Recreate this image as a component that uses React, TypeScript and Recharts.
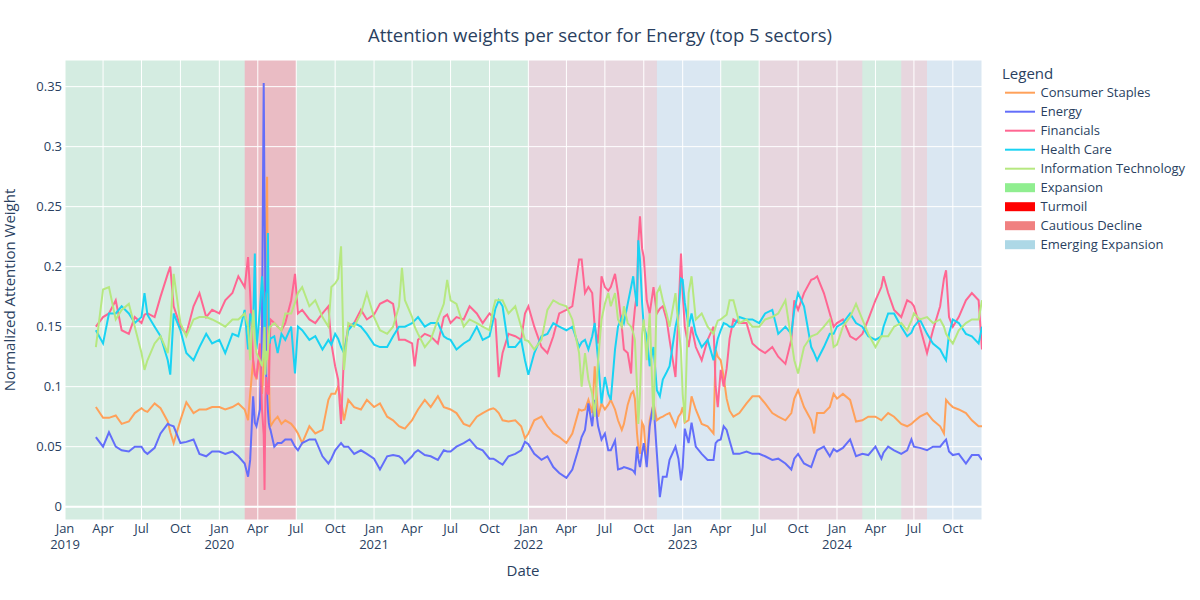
import React from "react";
import {
  LineChart,
  Line,
  XAxis,
  YAxis,
  CartesianGrid,
  ReferenceArea,
  ReferenceLine,
} from "recharts";

// Sample dates (roughly semi-monthly, denser where the lines spike)
const dates = [
  "2019-03-15", "2019-04-01", "2019-04-15", "2019-05-01", "2019-05-15", "2019-06-01", "2019-06-15",
  "2019-07-01", "2019-07-08", "2019-07-15", "2019-08-01", "2019-08-15", "2019-09-01", "2019-09-07",
  "2019-09-15", "2019-10-01", "2019-10-15", "2019-11-01", "2019-11-15", "2019-12-01", "2019-12-15",
  "2020-01-01", "2020-01-15", "2020-02-01", "2020-02-15", "2020-03-01", "2020-03-09", "2020-03-14",
  "2020-03-21", "2020-03-25", "2020-03-29", "2020-04-06", "2020-04-11", "2020-04-15", "2020-04-17",
  "2020-04-19", "2020-04-21", "2020-04-23", "2020-04-25", "2020-04-27", "2020-04-29", "2020-05-01",
  "2020-05-10", "2020-05-18", "2020-05-27", "2020-06-05", "2020-06-19", "2020-06-28", "2020-07-05",
  "2020-07-15", "2020-08-01", "2020-08-15", "2020-09-01", "2020-09-15", "2020-09-22", "2020-10-01",
  "2020-10-08", "2020-10-15", "2020-10-22", "2020-11-01", "2020-11-15", "2020-12-01", "2020-12-15",
  "2021-01-01", "2021-01-15", "2021-02-01", "2021-02-15", "2021-03-01", "2021-03-08", "2021-03-15",
  "2021-04-01", "2021-04-07", "2021-04-15", "2021-05-01", "2021-05-15", "2021-06-01", "2021-06-15",
  "2021-06-23", "2021-07-01", "2021-07-15", "2021-08-01", "2021-08-15", "2021-09-01", "2021-09-15",
  "2021-10-01", "2021-10-10", "2021-10-15", "2021-10-23", "2021-11-01", "2021-11-15", "2021-12-01",
  "2021-12-15", "2021-12-24",
  "2022-01-01", "2022-01-15", "2022-02-01", "2022-02-15", "2022-03-01", "2022-03-15", "2022-04-01",
  "2022-04-15", "2022-05-01", "2022-05-07", "2022-05-15", "2022-05-23", "2022-06-01", "2022-06-07",
  "2022-06-15", "2022-06-23", "2022-07-01", "2022-07-09", "2022-07-15", "2022-07-25", "2022-08-01",
  "2022-08-10", "2022-08-15", "2022-08-24", "2022-09-01", "2022-09-06", "2022-09-10", "2022-09-15",
  "2022-09-18", "2022-09-22", "2022-09-27", "2022-10-01", "2022-10-08", "2022-10-15", "2022-10-24",
  "2022-11-01", "2022-11-08", "2022-11-15", "2022-11-24", "2022-12-01", "2022-12-15", "2022-12-22",
  "2022-12-28",
  "2023-01-01", "2023-01-06", "2023-01-15", "2023-01-22", "2023-02-01", "2023-02-15", "2023-03-01",
  "2023-03-15", "2023-03-20", "2023-03-25", "2023-04-01", "2023-04-08", "2023-04-15", "2023-04-22",
  "2023-05-01", "2023-05-15", "2023-06-01", "2023-06-15", "2023-07-01", "2023-07-15", "2023-08-01",
  "2023-08-15", "2023-09-01", "2023-09-15", "2023-09-22", "2023-10-01", "2023-10-15", "2023-11-01",
  "2023-11-08", "2023-11-15", "2023-12-01", "2023-12-15", "2023-12-24",
  "2024-01-01", "2024-01-15", "2024-02-01", "2024-02-15", "2024-03-01", "2024-03-15", "2024-04-01",
  "2024-04-15", "2024-04-20", "2024-05-01", "2024-05-15", "2024-06-01", "2024-06-15", "2024-06-25",
  "2024-07-01", "2024-07-15", "2024-08-01", "2024-08-15", "2024-09-01", "2024-09-10", "2024-09-15",
  "2024-09-22", "2024-10-01", "2024-10-15", "2024-11-01", "2024-11-15", "2024-12-01", "2024-12-09",
];

const consumerStaples = [
  0.083, 0.074, 0.074, 0.076, 0.069, 0.071, 0.078, 0.082, 0.080, 0.079, 0.086, 0.082, 0.071, 0.062, 0.053, 0.072, 0.087, 0.078, 0.081, 0.081, 0.083,
  0.083, 0.081, 0.083, 0.086, 0.081, 0.072, 0.094, 0.122, 0.110, 0.106, 0.128, 0.094, 0.120, 0.178, 0.200, 0.240, 0.275, 0.160, 0.122, 0.080, 0.067,
  0.072, 0.075, 0.069, 0.072, 0.069, 0.065, 0.061, 0.053, 0.067, 0.061, 0.064, 0.089, 0.094, 0.094, 0.100, 0.089, 0.072, 0.089, 0.083, 0.081, 0.089,
  0.083, 0.086, 0.075, 0.072, 0.067, 0.066, 0.065, 0.072, 0.076, 0.081, 0.089, 0.083, 0.092, 0.083, 0.082, 0.081, 0.078, 0.069, 0.067, 0.075, 0.078,
  0.081, 0.082, 0.081, 0.078, 0.072, 0.071, 0.072, 0.067, 0.057,
  0.061, 0.072, 0.075, 0.067, 0.061, 0.058, 0.053, 0.061, 0.081, 0.080, 0.081, 0.089, 0.078, 0.117, 0.075, 0.086, 0.081, 0.085, 0.089, 0.081, 0.072,
  0.064, 0.069, 0.085, 0.094, 0.096, 0.090, 0.061, 0.050, 0.044, 0.070, 0.067, 0.036, 0.072, 0.086, 0.072, 0.074, 0.075, 0.077, 0.078, 0.067, 0.075,
  0.078,
  0.083, 0.070, 0.072, 0.092, 0.081, 0.069, 0.067, 0.061, 0.131, 0.125, 0.122, 0.108, 0.090, 0.080, 0.075, 0.078, 0.086, 0.092, 0.092, 0.086, 0.078,
  0.075, 0.072, 0.078, 0.090, 0.097, 0.083, 0.072, 0.061, 0.078, 0.078, 0.083, 0.094,
  0.090, 0.094, 0.089, 0.071, 0.072, 0.075, 0.075, 0.072, 0.074, 0.078, 0.075, 0.069, 0.067, 0.069, 0.071, 0.075, 0.078, 0.072, 0.067, 0.061, 0.089,
  0.086, 0.083, 0.081, 0.078, 0.072, 0.067, 0.067,
];

const energy = [
  0.058, 0.050, 0.062, 0.050, 0.047, 0.046, 0.050, 0.050, 0.046, 0.044, 0.049, 0.061, 0.069, 0.068, 0.067, 0.053, 0.054, 0.056, 0.044, 0.042, 0.046,
  0.046, 0.044, 0.046, 0.042, 0.036, 0.025, 0.039, 0.092, 0.070, 0.067, 0.081, 0.150, 0.353, 0.250, 0.178, 0.110, 0.094, 0.080, 0.070, 0.066, 0.064,
  0.050, 0.053, 0.053, 0.056, 0.056, 0.050, 0.047, 0.053, 0.056, 0.056, 0.042, 0.036, 0.040, 0.047, 0.050, 0.053, 0.050, 0.050, 0.044, 0.047, 0.044,
  0.040, 0.031, 0.042, 0.043, 0.042, 0.040, 0.036, 0.042, 0.045, 0.047, 0.043, 0.042, 0.039, 0.047, 0.046, 0.046, 0.050, 0.053, 0.056, 0.049, 0.047,
  0.040, 0.040, 0.039, 0.037, 0.035, 0.042, 0.044, 0.047, 0.054,
  0.052, 0.044, 0.039, 0.042, 0.033, 0.028, 0.024, 0.031, 0.050, 0.058, 0.064, 0.086, 0.067, 0.089, 0.067, 0.056, 0.061, 0.047, 0.047, 0.055, 0.031,
  0.032, 0.033, 0.032, 0.031, 0.030, 0.028, 0.050, 0.040, 0.033, 0.045, 0.053, 0.033, 0.067, 0.086, 0.044, 0.008, 0.025, 0.025, 0.039, 0.050, 0.040,
  0.022,
  0.033, 0.065, 0.053, 0.070, 0.050, 0.044, 0.039, 0.039, 0.053, 0.055, 0.056, 0.067, 0.064, 0.055, 0.044, 0.044, 0.046, 0.044, 0.044, 0.042, 0.039,
  0.040, 0.036, 0.031, 0.040, 0.044, 0.036, 0.033, 0.040, 0.047, 0.050, 0.042, 0.048,
  0.046, 0.049, 0.056, 0.042, 0.044, 0.043, 0.050, 0.040, 0.045, 0.050, 0.047, 0.044, 0.047, 0.056, 0.050, 0.049, 0.047, 0.050, 0.050, 0.054, 0.056,
  0.046, 0.043, 0.044, 0.036, 0.043, 0.043, 0.039,
];

const financials = [
  0.150, 0.158, 0.161, 0.172, 0.147, 0.144, 0.158, 0.153, 0.160, 0.161, 0.158, 0.175, 0.194, 0.200, 0.167, 0.150, 0.144, 0.167, 0.178, 0.158, 0.164,
  0.161, 0.172, 0.178, 0.192, 0.183, 0.208, 0.178, 0.122, 0.110, 0.108, 0.136, 0.081, 0.060, 0.014, 0.090, 0.108, 0.100, 0.094, 0.094, 0.130, 0.156,
  0.153, 0.150, 0.147, 0.153, 0.172, 0.194, 0.161, 0.164, 0.156, 0.153, 0.161, 0.167, 0.136, 0.117, 0.106, 0.069, 0.128, 0.150, 0.153, 0.164, 0.156,
  0.160, 0.169, 0.172, 0.169, 0.139, 0.139, 0.139, 0.136, 0.117, 0.139, 0.144, 0.142, 0.136, 0.158, 0.160, 0.153, 0.158, 0.156, 0.167, 0.161, 0.153,
  0.161, 0.158, 0.156, 0.108, 0.128, 0.144, 0.142, 0.139, 0.161,
  0.167, 0.150, 0.133, 0.128, 0.142, 0.161, 0.164, 0.167, 0.206, 0.206, 0.178, 0.183, 0.178, 0.150, 0.136, 0.192, 0.183, 0.180, 0.183, 0.194, 0.178,
  0.150, 0.131, 0.128, 0.111, 0.150, 0.165, 0.178, 0.220, 0.242, 0.215, 0.208, 0.172, 0.161, 0.183, 0.161, 0.165, 0.167, 0.156, 0.139, 0.108, 0.161,
  0.211,
  0.178, 0.150, 0.133, 0.150, 0.133, 0.122, 0.139, 0.150, 0.100, 0.083, 0.114, 0.100, 0.115, 0.140, 0.156, 0.153, 0.153, 0.136, 0.131, 0.128, 0.133,
  0.125, 0.119, 0.139, 0.172, 0.164, 0.178, 0.189, 0.190, 0.192, 0.178, 0.161, 0.150,
  0.153, 0.156, 0.142, 0.139, 0.144, 0.156, 0.172, 0.183, 0.192, 0.178, 0.164, 0.158, 0.172, 0.170, 0.167, 0.150, 0.128, 0.147, 0.167, 0.190, 0.197,
  0.158, 0.150, 0.158, 0.172, 0.178, 0.172, 0.131,
];

const healthCare = [
  0.147, 0.136, 0.161, 0.161, 0.167, 0.161, 0.153, 0.158, 0.178, 0.160, 0.150, 0.142, 0.122, 0.110, 0.161, 0.147, 0.128, 0.122, 0.133, 0.144, 0.136,
  0.139, 0.128, 0.144, 0.142, 0.164, 0.131, 0.161, 0.150, 0.211, 0.131, 0.164, 0.192, 0.170, 0.139, 0.160, 0.178, 0.180, 0.228, 0.150, 0.136, 0.140,
  0.142, 0.128, 0.144, 0.139, 0.150, 0.111, 0.150, 0.147, 0.139, 0.142, 0.131, 0.139, 0.135, 0.144, 0.140, 0.133, 0.128, 0.147, 0.153, 0.150, 0.144,
  0.135, 0.133, 0.133, 0.142, 0.150, 0.150, 0.150, 0.153, 0.155, 0.158, 0.150, 0.153, 0.153, 0.142, 0.140, 0.139, 0.131, 0.136, 0.139, 0.150, 0.139,
  0.142, 0.156, 0.165, 0.172, 0.167, 0.133, 0.133, 0.139, 0.122,
  0.110, 0.128, 0.142, 0.144, 0.153, 0.150, 0.147, 0.150, 0.133, 0.137, 0.139, 0.131, 0.142, 0.153, 0.122, 0.086, 0.108, 0.094, 0.089, 0.131, 0.150,
  0.158, 0.153, 0.169, 0.183, 0.192, 0.180, 0.167, 0.222, 0.206, 0.170, 0.150, 0.142, 0.117, 0.133, 0.097, 0.092, 0.106, 0.112, 0.117, 0.150, 0.161,
  0.190,
  0.189, 0.170, 0.150, 0.161, 0.144, 0.133, 0.139, 0.122, 0.131, 0.140, 0.147, 0.153, 0.152, 0.150, 0.150, 0.158, 0.156, 0.156, 0.153, 0.161, 0.164,
  0.144, 0.150, 0.144, 0.164, 0.178, 0.167, 0.133, 0.128, 0.122, 0.133, 0.144, 0.144,
  0.150, 0.153, 0.161, 0.153, 0.150, 0.142, 0.139, 0.142, 0.150, 0.161, 0.161, 0.150, 0.142, 0.145, 0.150, 0.156, 0.144, 0.136, 0.131, 0.125, 0.122,
  0.144, 0.156, 0.153, 0.144, 0.142, 0.136, 0.150,
];

const informationTechnology = [
  0.133, 0.181, 0.183, 0.156, 0.164, 0.169, 0.150, 0.128, 0.114, 0.122, 0.136, 0.142, 0.128, 0.150, 0.194, 0.153, 0.142, 0.156, 0.158, 0.158, 0.156,
  0.153, 0.150, 0.156, 0.156, 0.161, 0.150, 0.122, 0.164, 0.140, 0.128, 0.122, 0.117, 0.130, 0.150, 0.110, 0.130, 0.122, 0.130, 0.140, 0.150, 0.150,
  0.153, 0.150, 0.147, 0.161, 0.161, 0.170, 0.178, 0.183, 0.167, 0.172, 0.158, 0.150, 0.183, 0.186, 0.190, 0.217, 0.114, 0.153, 0.150, 0.161, 0.178,
  0.158, 0.147, 0.144, 0.150, 0.167, 0.199, 0.172, 0.158, 0.150, 0.144, 0.133, 0.139, 0.156, 0.169, 0.189, 0.172, 0.169, 0.150, 0.156, 0.153, 0.150,
  0.147, 0.165, 0.172, 0.172, 0.172, 0.161, 0.167, 0.150, 0.139,
  0.138, 0.131, 0.139, 0.164, 0.172, 0.169, 0.167, 0.156, 0.128, 0.100, 0.128, 0.106, 0.094, 0.075, 0.122, 0.156, 0.169, 0.178, 0.167, 0.178, 0.156,
  0.150, 0.167, 0.153, 0.150, 0.145, 0.139, 0.100, 0.069, 0.094, 0.144, 0.156, 0.122, 0.161, 0.072, 0.178, 0.183, 0.172, 0.161, 0.150, 0.178, 0.150,
  0.130,
  0.094, 0.070, 0.178, 0.192, 0.156, 0.161, 0.150, 0.144, 0.150, 0.155, 0.156, 0.158, 0.160, 0.172, 0.172, 0.153, 0.156, 0.150, 0.150, 0.156, 0.158,
  0.161, 0.172, 0.139, 0.122, 0.111, 0.133, 0.142, 0.143, 0.144, 0.150, 0.156, 0.133,
  0.135, 0.150, 0.158, 0.169, 0.156, 0.144, 0.133, 0.142, 0.142, 0.142, 0.150, 0.153, 0.147, 0.155, 0.161, 0.156, 0.158, 0.153, 0.156, 0.150, 0.144,
  0.140, 0.136, 0.147, 0.153, 0.156, 0.156, 0.172,
];

// Market regimes shaded behind the lines
const regimeStarts = ["2019-01-01", "2020-03-01", "2020-07-01", "2022-01-01", "2022-11-01", "2023-04-01", "2023-07-01", "2024-03-01", "2024-06-01", "2024-08-01"];
const regimeEnds = ["2020-03-01", "2020-07-01", "2022-01-01", "2022-11-01", "2023-04-01", "2023-07-01", "2024-03-01", "2024-06-01", "2024-08-01", "2024-12-09"];
const regimeNames = ["Expansion", "Turmoil", "Expansion", "Cautious Decline", "Emerging Expansion", "Expansion", "Cautious Decline", "Expansion", "Cautious Decline", "Emerging Expansion"];

const xTicks = [
  "2019-01-01", "2019-04-01", "2019-07-01", "2019-10-01", "2020-01-01", "2020-04-01", "2020-07-01", "2020-10-01",
  "2021-01-01", "2021-04-01", "2021-07-01", "2021-10-01", "2022-01-01", "2022-04-01", "2022-07-01", "2022-10-01",
  "2023-01-01", "2023-04-01", "2023-07-01", "2023-10-01", "2024-01-01", "2024-04-01", "2024-07-01", "2024-10-01",
];
const xTickLabels = [
  "Jan|2019", "Apr", "Jul", "Oct", "Jan|2020", "Apr", "Jul", "Oct",
  "Jan|2021", "Apr", "Jul", "Oct", "Jan|2022", "Apr", "Jul", "Oct",
  "Jan|2023", "Apr", "Jul", "Oct", "Jan|2024", "Apr", "Jul", "Oct",
];
const yTicks = [0, 0.05, 0.1, 0.15, 0.2, 0.25, 0.3, 0.35];

const SERIES = [
  { key: "cs", name: "Consumer Staples", color: "#FFA15A", values: consumerStaples },
  { key: "en", name: "Energy", color: "#636EFA", values: energy },
  { key: "fin", name: "Financials", color: "#FF6692", values: financials },
  { key: "hc", name: "Health Care", color: "#19D3F3", values: healthCare },
  { key: "it", name: "Information Technology", color: "#B6E880", values: informationTechnology },
];

const REGIMES = [
  { name: "Expansion", color: "#90EE90" },
  { name: "Turmoil", color: "#FF0000" },
  { name: "Cautious Decline", color: "#F08080" },
  { name: "Emerging Expansion", color: "#ADD8E6" },
];

const FONT = '"Open Sans", verdana, arial, sans-serif';
const TEXT = "#2a3f5f";

const toMs = (d: string) => Date.parse(d);
const X_MIN = toMs("2019-01-01");
const X_MAX = toMs("2024-12-09");
const Y_MIN = -0.0111;
const Y_MAX = 0.3722;

const rows = dates.map((d, i) => {
  const row: Record<string, number> = { t: toMs(d) };
  SERIES.forEach((s) => (row[s.key] = s.values[i]));
  return row;
});

// two-line plotly-style date labels ("Jan" over the year)
function DateTick({ x, y, payload, index }: any) {
  const i = payload?.index ?? index ?? 0;
  const [month, year] = (xTickLabels[i] ?? "").split("|");
  return (
    <text x={x} y={y} textAnchor="middle" fill={TEXT} fontSize={13} fontFamily={FONT}>
      <tspan x={x} dy={13}>{month}</tspan>
      {year && <tspan x={x} dy={16}>{year}</tspan>}
    </text>
  );
}

export default function App() {
  const colorOf = (name: string) => REGIMES.find((r) => r.name === name)?.color ?? "#fff";

  return (
    <div style={{ position: "absolute", left: 0, top: 0, width: 1200, height: 600, background: "#fff", fontFamily: FONT }}>
      <LineChart width={1200} height={600} data={rows} margin={{ top: 60, right: 218, bottom: 0, left: 0 }}>
        {/* plot background, then regime bands */}
        <ReferenceArea x1={X_MIN} x2={X_MAX} fill="#E5ECF6" fillOpacity={1} stroke="none" zIndex={-300} />
        {regimeStarts.map((start, i) => (
          <ReferenceArea
            key={start}
            x1={toMs(start)}
            x2={toMs(regimeEnds[i])}
            fill={colorOf(regimeNames[i])}
            fillOpacity={0.2}
            stroke="none"
            zIndex={-250}
          />
        ))}
        <CartesianGrid stroke="#ffffff" strokeWidth={1} zIndex={-100} />
        <ReferenceLine y={0} stroke="#ffffff" strokeWidth={2} zIndex={-90} />
        <XAxis
          type="number"
          dataKey="t"
          domain={[X_MIN, X_MAX]}
          ticks={xTicks.map(toMs)}
          interval={0}
          tick={<DateTick />}
          axisLine={false}
          tickLine={false}
          tickSize={0}
          tickMargin={0}
          height={80}
          allowDataOverflow
        />
        <YAxis
          type="number"
          domain={[Y_MIN, Y_MAX]}
          ticks={yTicks}
          interval={0}
          width={65}
          axisLine={false}
          tickLine={false}
          tickSize={0}
          tickMargin={3}
          tick={{ fill: TEXT, fontSize: 13, fontFamily: FONT }}
          allowDataOverflow
        />
        {SERIES.map((s) => (
          <Line
            key={s.key}
            type="linear"
            dataKey={s.key}
            name={s.name}
            stroke={s.color}
            strokeWidth={2}
            dot={false}
            activeDot={false}
            isAnimationActive={false}
          />
        ))}
      </LineChart>

      {/* titles and legend */}
      <svg width={1200} height={600} style={{ position: "absolute", left: 0, top: 0, pointerEvents: "none" }}>
        <text x={600} y={42} textAnchor="middle" fontSize={18.5} fill={TEXT} fontFamily={FONT}>
          Attention weights per sector for Energy (top 5 sectors)
        </text>
        <text x={523} y={576} textAnchor="middle" fontSize={15} fill={TEXT} fontFamily={FONT}>
          Date
        </text>
        <text
          x={15}
          y={290}
          textAnchor="middle"
          fontSize={15}
          fill={TEXT}
          fontFamily={FONT}
          transform="rotate(-90 15 290)"
        >
          Normalized Attention Weight
        </text>

        <text x={1002} y={78.5} fontSize={15} fill={TEXT} fontFamily={FONT}>
          Legend
        </text>
        {SERIES.map((s, i) => {
          const cy = 92.7 + i * 19;
          return (
            <g key={s.key}>
              <line x1={1005} x2={1035} y1={cy} y2={cy} stroke={s.color} strokeWidth={2} />
              <text x={1040.5} y={cy + 4.6} fontSize={13} fill={TEXT} fontFamily={FONT}>
                {s.name}
              </text>
            </g>
          );
        })}
        {REGIMES.map((r, i) => {
          const cy = 92.7 + (SERIES.length + i) * 19;
          return (
            <g key={r.name}>
              <rect x={1005} y={cy - 4.5} width={30} height={9} fill={r.color} />
              <text x={1040.5} y={cy + 4.6} fontSize={13} fill={TEXT} fontFamily={FONT}>
                {r.name}
              </text>
            </g>
          );
        })}
      </svg>
    </div>
  );
}
